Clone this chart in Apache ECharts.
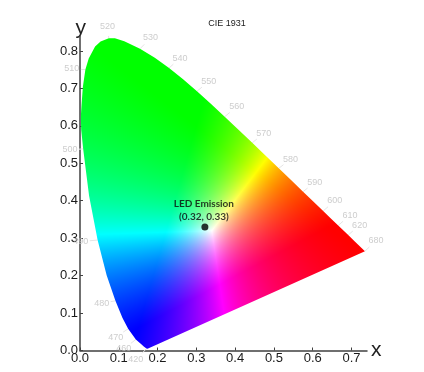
<!DOCTYPE html>
<html><head><meta charset="utf-8">
<style>html,body{margin:0;padding:0;background:#fff}#c{width:424px;height:372px}</style>
<script src="https://cdn.jsdelivr.net/npm/echarts@6/dist/echarts.min.js"></script>
</head><body><div id="c"></div>
<script>
const locusX=[.1741,.1714,.1644,.1566,.1440,.1241,.1096,.0913,.0687,.0454,.0235,.0082,.0030,.0022,.0039,.0075,.0139,.0225,.0389,.0530,.0743,.0900,.1142,.1547,.1929,.2296,.2658,.3016,.3373,.3731,.4087,.4441,.4788,.5125,.5448,.5752,.6029,.6270,.6482,.6658,.6915,.7079,.7347];
const locusY=[.0050,.0051,.0109,.0177,.0297,.0578,.0868,.1327,.2007,.2950,.4127,.5384,.5900,.6250,.6548,.7050,.7502,.7800,.8120,.8250,.8338,.8340,.8262,.8059,.7816,.7543,.7243,.6923,.6589,.6245,.5896,.5547,.5202,.4866,.4544,.4242,.3965,.3725,.3514,.3340,.3083,.2920,.2653];
const wavelengths=['420','460','470','480','490','500','510','520','530','540','550','560','570','580','590','600','610','620','680'];
const waveLabelX=[.144,.113,.092,.056,.002,-.026,-.021,.071,.182,.258,.332,.404,.474,.543,.605,.657,.696,.721,.763];
const waveLabelY=[-.025,.004,.036,.126,.291,.536,.752,.864,.835,.781,.719,.651,.58,.511,.449,.4,.361,.335,.293];
const waveTickX=[.1714,.1440,.1241,.0913,.0454,.0082,.0139,.0743,.1547,.2296,.3016,.3731,.4441,.5125,.5752,.6270,.6658,.6915,.7347];
const waveTickY=[.0051,.0297,.0578,.1327,.2950,.5384,.7502,.8338,.8059,.7543,.6923,.6245,.5547,.4866,.4242,.3725,.3340,.3083,.2653];
const xTicks=[0,.1,.2,.3,.4,.5,.6,.7];
const yTicks=[0,.1,.2,.3,.4,.5,.6,.7,.8];
const ledPoint=[.322,.33];
const ledLabel='LED Emission\n(0.32, 0.33)';
const titleText='CIE 1931';
const primaries=[[.64,.33],[.3,.6],[.15,.06]];
const whitePoint=[.34,.32];
const toneExponent=1.05;

function inv3(m){
  const [a,b,c]=m[0],[d,e,f]=m[1],[g,h,i]=m[2];
  const A=e*i-f*h,B=f*g-d*i,C=d*h-e*g,det=a*A+b*B+c*C;
  return [[A/det,(c*h-b*i)/det,(b*f-c*e)/det],[B/det,(a*i-c*g)/det,(c*d-a*f)/det],[C/det,(b*g-a*h)/det,(a*e-b*d)/det]];
}
const mulV=(m,v)=>m.map(r=>r[0]*v[0]+r[1]*v[1]+r[2]*v[2]);
const baseM=inv3([0,1,2].map(k=>primaries.map(p=>k===0?p[0]:k===1?p[1]:1-p[0]-p[1])));
const whiteS=mulV(baseM,[whitePoint[0],whitePoint[1],1-whitePoint[0]-whitePoint[1]]);
function xyToRgb(x,y){
  const c=mulV(baseM,[x,y,1-x-y]).map((v,i)=>Math.max(v/whiteS[i],0));
  const m=Math.max(c[0],c[1],c[2])||1;
  return c.map(v=>Math.pow(v/m,toneExponent)*255);
}
let texture=null;
function getTexture(api){
  if(texture)return texture;
  const p0=api.coord([0,0]),p1=api.coord([1,1]);
  const cv=document.createElement('canvas');cv.width=424;cv.height=372;
  const ctx=cv.getContext('2d'),img=ctx.createImageData(424,372);
  for(let py=0;py<372;py++)for(let px=0;px<424;px++){
    const x=(px+.5-p0[0])/(p1[0]-p0[0]),y=(py+.5-p0[1])/(p1[1]-p0[1]);
    const c=xyToRgb(x,y),i=(py*424+px)*4;
    img.data[i]=c[0];img.data[i+1]=c[1];img.data[i+2]=c[2];img.data[i+3]=255;
  }
  ctx.putImageData(img,0,0);
  return texture=cv;
}
const chart=echarts.init(document.getElementById('c'),null,{renderer:'canvas'});
const axisCommon={type:'value',interval:.1,
  axisLine:{onZero:false,lineStyle:{color:'#404040',width:1.5}},
  splitLine:{show:false},
  axisTick:{inside:true,length:3,lineStyle:{color:'#404040',width:1}}};
const labelFmt=v=>v.toFixed(1);
chart.setOption({
  animation:false,
  title:{text:titleText,left:222,top:14,textAlign:'center',textStyle:{fontSize:9,fontWeight:'normal',color:'#222',fontFamily:'Liberation Sans'}},
  grid:{left:80,top:36,right:57,bottom:21.5},
  xAxis:Object.assign({},axisCommon,{min:0,max:.74,name:'x',nameLocation:'end',nameGap:4,
    nameTextStyle:{color:'#222',fontSize:21,fontFamily:'Liberation Sans',verticalAlign:'middle',padding:[0,0,-1,0]},
    axisTick:Object.assign({},axisCommon.axisTick,{customValues:xTicks}),
    axisLabel:{customValues:xTicks,formatter:labelFmt,color:'#1a1a1a',fontSize:13,margin:1,fontFamily:'Liberation Sans'}}),
  yAxis:Object.assign({},axisCommon,{min:0,max:.84,name:'y',nameLocation:'end',nameGap:-3,
    nameTextStyle:{color:'#222',fontSize:21,fontFamily:'Liberation Sans',align:'right',padding:[0,-6,0,0]},
    axisTick:Object.assign({},axisCommon.axisTick,{customValues:yTicks}),
    axisLabel:{customValues:yTicks,formatter:labelFmt,color:'#1a1a1a',fontSize:13,margin:2,fontFamily:'Liberation Sans'}}),
  series:[
    {type:'custom',coordinateSystem:'cartesian2d',clip:false,silent:true,z:2,
     data:locusX.map((x,i)=>[x,locusY[i]]),
     renderItem(params,api){
       if(params.dataIndex!==0)return null;
       const pts=locusX.map((x,i)=>api.coord([x,locusY[i]]));
       return {type:'polygon',shape:{points:pts},style:{fill:{image:getTexture(api),repeat:'no-repeat'}}};
     }},
    {type:'custom',coordinateSystem:'cartesian2d',clip:false,silent:true,z:1,
     data:waveTickX.map((x,i)=>[x,waveTickY[i],waveLabelX[i],waveLabelY[i]]),
     renderItem(params,api){
       const a=api.coord([api.value(0),api.value(1)]),b=api.coord([api.value(2),api.value(3)]);
       const d=Math.hypot(b[0]-a[0],b[1]-a[1])||1,t=Math.min(1,Math.max(0,(d-9)/d));
       return {type:'line',shape:{x1:a[0],y1:a[1],x2:a[0]+(b[0]-a[0])*t,y2:a[1]+(b[1]-a[1])*t},style:{stroke:'#e4e4e4',lineWidth:1}};
     }},
    {type:'scatter',silent:true,z:3,symbolSize:1,clip:false,itemStyle:{color:'rgba(0,0,0,0)'},
     data:waveLabelX.map((x,i)=>({value:[x,waveLabelY[i]],name:wavelengths[i]})),
     labelLayout:{hideOverlap:false},
     label:{show:true,position:'inside',formatter:'{b}',color:'#c0c0c0',fontSize:9,fontFamily:'Liberation Sans'}},
    {type:'scatter',silent:true,z:4,symbolSize:7,itemStyle:{color:'#000'},
     data:[ledPoint],
     label:{show:true,position:'top',distance:0,formatter:ledLabel,color:'#0a0a0a',fontSize:10,lineHeight:13,fontWeight:'bold',fontFamily:'Lato',align:'center',offset:[-1,0]}}
  ]
});
</script></body></html>
